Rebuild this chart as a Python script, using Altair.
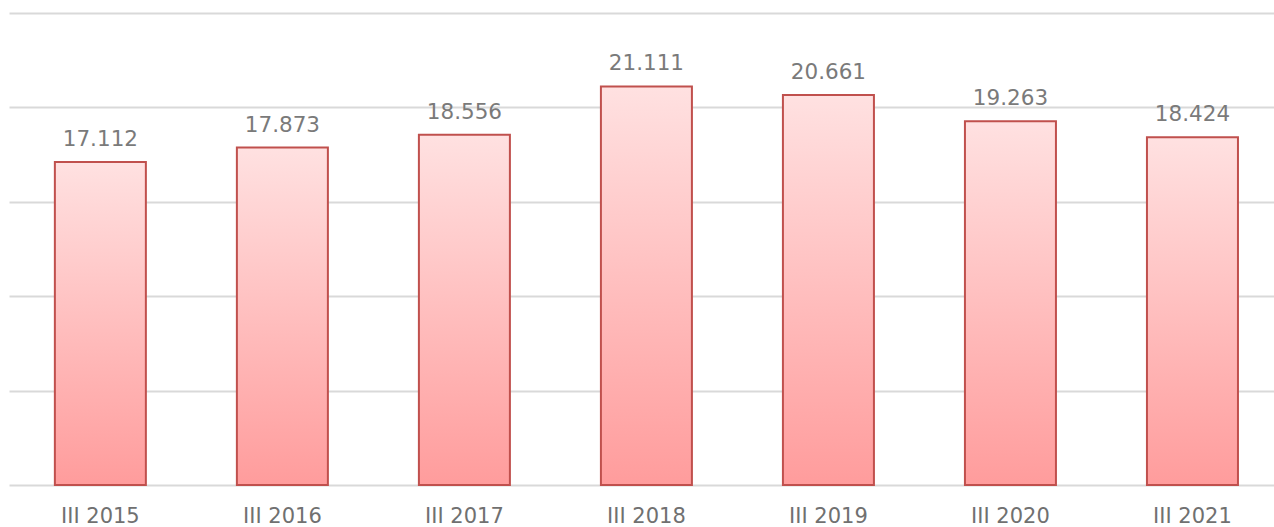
import altair as alt
import pandas as pd

categories = ["III 2015", "III 2016", "III 2017", "III 2018", "III 2019", "III 2020", "III 2021"]
values = [17.112, 17.873, 18.556, 21.111, 20.661, 19.263, 18.424]
labels = ["17.112", "17.873", "18.556", "21.111", "20.661", "19.263", "18.424"]

df = pd.DataFrame({"cat": categories, "val": values, "lab": labels})

x = alt.X("cat:N", sort=categories, title=None,
          scale=alt.Scale(paddingInner=0.5, paddingOuter=0.225, align=0.56),
          axis=alt.Axis(labelAngle=0, labelFont="DejaVu Sans", labelFontSize=21,
                        labelColor="#707070", ticks=False, domain=False,
                        labelPadding=20, grid=False))
y = alt.Y("val:Q", title=None, scale=alt.Scale(domain=[0, 25], nice=False),
          axis=alt.Axis(values=[0, 5, 10, 15, 20, 25], labels=False, ticks=False,
                        domain=False, grid=True, gridColor="#d9d9d9", gridWidth=2))

grad = alt.Gradient(gradient="linear", x1=0, y1=0, x2=0, y2=1,
                    stops=[alt.GradientStop(color="#ffe1e1", offset=0),
                           alt.GradientStop(color="#ff9c9c", offset=1)])

bars = alt.Chart(df).mark_bar(fill=grad, stroke="#c0504d", strokeWidth=2).encode(x=x, y=y)
text = alt.Chart(df).mark_text(baseline="alphabetic", dy=-16, font="DejaVu Sans", fontSize=21.5,
                               color="#7a7a7a").encode(x=x, y=y, text="lab:N")

chart = (bars + text).properties(
    width=1265, height=472,
    padding={"left": 9, "top": 13, "right": 0, "bottom": 0}
).configure_view(stroke=None)

chart.save("out.html", embed_options={"renderer": "svg", "actions": False})
